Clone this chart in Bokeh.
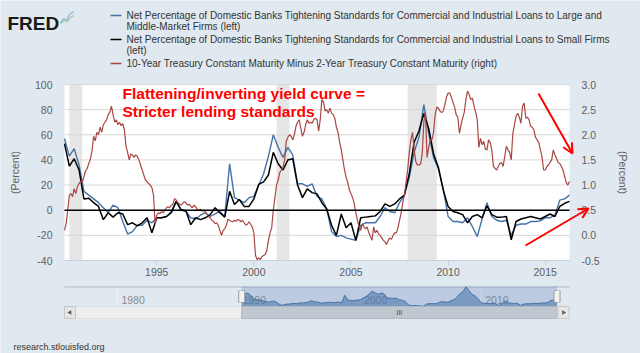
import math
from bokeh.plotting import figure
from bokeh.models import (Range1d, LinearAxis, FixedTicker, PrintfTickFormatter,
                          Label, Arrow, OpenHead)
from bokeh.core.properties import value
from bokeh.embed import file_html
from bokeh.resources import INLINE

# ---------------- data ----------------
# quarterly survey series, first value 1990 Q2
quarter_start = 1990.25
large_firms = [57, 43, 49, 36, 15, 12, 9, 6, 2, -2, 4, 2, -9, -19, -17, -12, -12, -8, -10, -6,
               -6, -5, -1, 7, 0, -1, -6, -7, -4, -2, -5, -3, -1, -5, 37, 10, 8, 6, 10, 11,
               20, 29, 43, 60, 50, 42, 50, 44, 21, 21, 19, 21, 11, 9, 1, -17, -21, -20, -22, -23,
               -24, -12, -10, -10, -10, -5, 2, -1, -2, 6, 12, 26, 46, 58, 84, 61, 42, 33, 17, -5,
               -9, -9, -10, -6, -13, -21, -7, 6, -5, -8, -9, -8, -20, -12, -11, -11, -9, -9, -8.5, -6,
               -6, -4, 8, 9, 12]
small_firms = [53, 35, 41, 32, 9, 9.5, 6, 3, -7.5, -2, -5.5, -2, -3, -11.5, -10, -12.5, -10, -6, -18, -6,
               -6, -5, -2, 7, 0.5, -0.5, -11.5, -6, -7.5, -6, -3.5, 2, -2, -5.5, 15, 4.5, 8.5, 3, 3, 9,
               20.5, 22.5, 28, 46, 37, 32, 40, 41, 20, 10, 17, 14, 13, 6, 1, -12, -20, -3, -14, -10,
               -24, -6, -5.5, -5, -4.5, -1, 5, 3, 5, 9, 12, 29, 54, 63, 77, 65, 45, 34, 16, 3,
               -1, -2, -3.5, -10, -5, -3.5, -6, 3.5, -3.5, -5.5, -5.5, -5, -23.5, -9, -7, -6, -5, -6, -7, -5,
               -3, -5, 3, 5.5, 7]

# monthly 10y-2y spread (right axis), first value April 1990
spread_first_year = 1990
spread_first_month = 4
spread_1990 = [0.10, 0.23, 0.50, 0.80, 0.83, 0.77, 0.93, 0.83, 0.97]
spread_1991 = [1.03, 1.08, 1.05, 1.17, 1.28, 1.33, 1.43, 1.52, 1.68, 1.97, 1.88, 2.05]
spread_1992 = [2.00, 2.15, 2.05, 2.20, 2.25, 2.30, 2.40, 2.45, 2.57, 2.40, 2.25, 2.30]
spread_1993 = [2.20, 2.25, 2.18, 2.22, 2.10, 1.77, 1.65, 1.50, 1.62, 1.60, 1.55, 1.60]
spread_1994 = [1.57, 1.50, 1.40, 1.30, 1.20, 1.10, 1.07, 1.03, 1.00, 0.95, 0.80, 0.23]
spread_1995 = [0.40, 0.45, 0.43, 0.47, 0.45, 0.50, 0.55, 0.57, 0.55, 0.60, 0.62, 0.73]
spread_1996 = [0.70, 0.65, 0.63, 0.60, 0.63, 0.67, 0.65, 0.60, 0.62, 0.58, 0.55, 0.60]
spread_1997 = [0.57, 0.52, 0.50, 0.52, 0.48, 0.50, 0.47, 0.42, 0.37, 0.35, 0.30, 0.28]
spread_1998 = [0.23, 0.25, 0.20, 0.10, 0.00, 0.10, 0.13, 0.20, 0.32, 0.30, 0.28, 0.27]
spread_1999 = [0.30, 0.28, 0.32, 0.30, 0.27, 0.30, 0.25, 0.20, 0.22, 0.27, 0.22, 0.17]
spread_2000 = [0.05, -0.40, -0.48, -0.45, -0.48, -0.42, -0.40, -0.38, -0.30, -0.10, 0.05, 0.15]
spread_2001 = [0.50, 0.75, 1.00, 1.10, 1.25, 1.30, 1.35, 1.50, 1.87, 1.95, 2.00, 1.97]
spread_2002 = [1.90, 2.00, 2.17, 2.25, 2.30, 2.13, 1.97, 2.05, 2.20, 2.30, 2.23, 2.25]
spread_2003 = [2.23, 2.30, 2.33, 2.30, 2.07, 2.30, 2.70, 2.65, 2.47, 2.50, 2.43, 2.53]
spread_2004 = [2.43, 2.40, 2.33, 2.15, 2.05, 1.85, 1.70, 1.50, 1.30, 1.15, 1.05, 0.90]
spread_2005 = [0.83, 0.75, 0.63, 0.45, 0.30, 0.17, 0.10, 0.23, 0.17, 0.13, 0.17, 0.05]
spread_2006 = [-0.02, -0.10, 0.17, 0.05, 0.10, 0.03, 0.00, -0.05, -0.10, -0.13, -0.18, -0.10]
spread_2007 = [-0.05, -0.08, 0.00, 0.05, 0.05, 0.15, 0.30, 0.45, 0.65, 0.80, 1.05, 1.30]
spread_2008 = [1.65, 1.90, 2.05, 1.72, 1.47, 1.40, 1.40, 1.42, 1.62, 2.25, 2.45, 1.55]
spread_2009 = [1.75, 1.90, 1.90, 2.05, 2.40, 2.55, 2.53, 2.47, 2.44, 2.47, 2.60, 2.75]
spread_2010 = [2.83, 2.83, 2.75, 2.65, 2.55, 2.40, 2.35, 2.03, 2.20, 2.33, 2.45, 2.70]
spread_2011 = [2.87, 2.80, 2.70, 2.73, 2.57, 2.45, 2.30, 1.75, 1.93, 1.80, 1.87, 1.72]
spread_2012 = [1.70, 1.90, 1.85, 1.70, 1.37, 1.33, 1.30, 1.37, 1.43, 1.45, 1.37, 1.57]
spread_2013 = [1.77, 1.70, 1.65, 1.50, 2.03, 2.20, 2.37, 2.43, 2.35, 2.23, 2.57, 2.63]
spread_2014 = [2.33, 2.35, 2.30, 2.17, 2.15, 2.10, 1.95, 1.90, 1.85, 1.70, 1.57, 1.30]
spread_2015 = [1.30, 1.37, 1.40, 1.45, 1.50, 1.70, 1.60, 1.53, 1.45, 1.43, 1.37, 1.30]
spread_2016 = [1.17, 1.05, 1.00, 1.07]

recession_start = [1990.5, 2001.167, 2007.917]
recession_end = [1991.167, 2001.833, 2009.417]

x_ticks = [1995, 2000, 2005, 2010, 2015]
left_ticks = [-40, -20, 0, 20, 40, 60, 80, 100]
right_ticks = [-0.5, 0.0, 0.5, 1.0, 1.5, 2.0, 2.5, 3.0]
nav_ticks = [1980, 1990, 2000, 2010]
nav_labels = ["1980", "1990", "2000", "2010"]

legend_lines = [
    "Net Percentage of Domestic Banks Tightening Standards for Commercial and Industrial Loans to Large and",
    "Middle-Market Firms (left)",
    "Net Percentage of Domestic Banks Tightening Standards for Commercial and Industrial Loans to Small Firms",
    "(left)",
    "10-Year Treasury Constant Maturity Minus 2-Year Treasury Constant Maturity (right)",
]
note_lines = ["Flattening/inverting yield curve =", "Stricter lending standards"]

# ---------------- derived x positions ----------------
t_q = [quarter_start + 0.25 * i for i in range(len(large_firms))]
spread_years = [spread_1990, spread_1991, spread_1992, spread_1993, spread_1994, spread_1995,
                spread_1996, spread_1997, spread_1998, spread_1999, spread_2000, spread_2001,
                spread_2002, spread_2003, spread_2004, spread_2005, spread_2006, spread_2007,
                spread_2008, spread_2009, spread_2010, spread_2011, spread_2012, spread_2013,
                spread_2014, spread_2015, spread_2016]
t_m, spread = [], []
for k, yr in enumerate(spread_years):
    m0 = spread_first_month if k == 0 else 1
    for j, v in enumerate(yr):
        t_m.append(spread_first_year + k + (m0 - 1 + j) / 12.0)
        spread.append(v)

# ---------------- geometry ----------------
BG = "#E1E9F0"
BLUE = "#4572A7"
RED_S = "#AA4643"
FONT = "Liberation Sans"
CW, CH = 640, 353
FL, FR, FT, FB = 64, 569, 84, 260          # plot area in px
X0, X1 = t_q[0], t_q[-1]
YL0, YL1 = -40, 100
YR0, YR1 = -0.5, 3.0

sx = (FR - FL) / (X1 - X0)
sy = (FB - FT) / (YL1 - YL0)
syr = (FB - FT) / (YR1 - YR0)
x_range = Range1d(X0 - FL / sx, X1 + (CW - FR) / sx)
y_range = Range1d(YL0 - (CH - FB) / sy, YL1 + FT / sy)
right_range = Range1d(YR0 - (CH - FB) / syr, YR1 + FT / syr)

# navigator geometry
NX0, NX1 = 1975.64, 2017.28
NT, NB = 286, 318
NY1 = 86.0
NSC = 5.6                 # units per px
base = NY1 - 20 * NSC     # bottom of navigator chart, top of scrollbar
NY0 = NY1 - (NB - NT) * NSC
nsx = (FR - FL) / (NX1 - NX0)
nav_x = Range1d(NX0 - FL / nsx, NX1 + (CW - FR) / nsx)
nav_y = Range1d(NY1 - (CH - NT) * NSC, NY1 + NT * NSC)


def dx(px):
    return x_range.start + px / sx


def dy(py):
    return y_range.end - py / sy


def ndx(px):
    return nav_x.start + px / nsx


def ndy(py):
    return nav_y.end - py * NSC


p = figure(width=CW, height=CH, x_range=x_range, y_range=y_range,
           output_backend="svg", toolbar_location=None,
           x_axis_location=None, y_axis_location=None,
           min_border=0, min_border_left=0, min_border_right=0, min_border_top=0, min_border_bottom=0,
           background_fill_color=BG, border_fill_color=BG, outline_line_color=None)
p.grid.visible = False
p.extra_y_ranges = {"right": right_range, "navy": nav_y}
p.extra_x_ranges = {"nav": nav_x}

# plot area, recessions, grid
p.quad(left=X0, right=X1, bottom=YL0, top=YL1, fill_color="white", line_color=None)
p.quad(left=recession_start, right=recession_end, bottom=YL0, top=YL1,
       fill_color="#E6E6E6", line_color=None)
p.segment(x0=X0, x1=X1, y0=left_ticks[1:], y1=left_ticks[1:], line_color="#D8D8D8", line_width=1)

# series
p.line(t_q, large_firms, line_color=BLUE, line_width=1.4)
p.line(t_q, small_firms, line_color="black", line_width=1.5)
p.line(t_m, spread, line_color=RED_S, line_width=1.2, y_range_name="right")
p.segment(x0=[X0], x1=[X1], y0=[0], y1=[0], line_color="black", line_width=1.5)

# axes (fixed inside the single frame)
xa = LinearAxis(fixed_location=YL0, bounds=(X0, X1), ticker=FixedTicker(ticks=x_ticks),
                formatter=PrintfTickFormatter(format="%d"))
xa.axis_line_color = "#C0D0E0"
xa.major_tick_line_color = "#C0D0E0"
xa.major_tick_out = 5
xa.major_tick_in = 0
xa.minor_tick_line_color = None
xa.major_label_standoff = 2
xa.major_label_text_font = FONT
xa.major_label_text_font_size = "10.5px"
xa.major_label_text_color = "#606060"
p.add_layout(xa, "below")

ya = LinearAxis(fixed_location=X0, bounds=(YL0, YL1), ticker=FixedTicker(ticks=left_ticks),
                formatter=PrintfTickFormatter(format="%d"), axis_label="(Percent)")
ya.axis_line_color = None
ya.major_tick_line_color = None
ya.minor_tick_line_color = None
ya.major_tick_out = 0
ya.major_label_standoff = 12
ya.major_label_text_font = FONT
ya.major_label_text_font_size = "10.5px"
ya.major_label_text_color = "#606060"
ya.axis_label_standoff = 11
ya.axis_label_text_font = FONT
ya.axis_label_text_font_size = "10.5px"
ya.axis_label_text_font_style = "normal"
ya.axis_label_text_color = "#606060"
p.add_layout(ya, "left")

ra = LinearAxis(y_range_name="right", fixed_location=X1, bounds=(YR0, YR1),
                ticker=FixedTicker(ticks=right_ticks),
                formatter=PrintfTickFormatter(format="%.1f"), axis_label="(Percent)")
ra.axis_line_color = None
ra.major_tick_line_color = None
ra.minor_tick_line_color = None
ra.major_tick_out = 0
ra.major_label_standoff = 12
ra.major_label_text_font = FONT
ra.major_label_text_font_size = "10.5px"
ra.major_label_text_color = "#606060"
ra.axis_label_standoff = 14
ra.axis_label_text_font = FONT
ra.axis_label_text_font_size = "10.5px"
ra.axis_label_text_font_style = "normal"
ra.axis_label_text_color = "#606060"
p.add_layout(ra, "right")

# header: logo + legend
p.add_layout(Label(x=dx(7), y=dy(23), text="FRED", text_font=FONT, text_font_size="19px",
                   text_font_style="bold", text_color="#1a1a1a", text_baseline="alphabetic"))
icon_a = [(60, 22), (63, 18), (66, 20), (69, 14), (73, 11)]
icon_b = [(60, 23), (64, 20), (67, 21), (70, 17), (73, 15)]
for pts, col in ((icon_a, "#8FB3D9"), (icon_b, "#93C493")):
    for (a, b), (c, d) in zip(pts[:-1], pts[1:]):
        p.add_layout(Arrow(end=None, x_start=dx(a), y_start=dy(b), x_end=dx(c), y_end=dy(d),
                           line_color=col, line_width=1.2))

legend_y = [15, 26, 39, 50, 63]
legend_swatch = {0: BLUE, 2: "black", 4: RED_S}
for i, (txt, yy) in enumerate(zip(legend_lines, legend_y)):
    p.add_layout(Label(x=dx(126), y=dy(yy), text=txt, text_font=FONT, text_font_size="10px",
                       text_color="#333333", text_baseline="middle"))
    if i in legend_swatch:
        p.add_layout(Arrow(end=None, x_start=dx(110), y_start=dy(yy), x_end=dx(121), y_end=dy(yy),
                           line_color=legend_swatch[i], line_width=1.6))

# annotation
for txt, yy in zip(note_lines, [93, 110.5]):
    p.add_layout(Label(x=dx(122), y=dy(yy), text=txt, text_font=FONT, text_font_size="15.5px",
                       text_font_style="bold", text_color="#FF0000", text_baseline="alphabetic"))

for (a, b), (c, d) in (((538, 93), (572, 153)), ((525, 245), (588, 208))):
    p.add_layout(Arrow(end=OpenHead(size=10, line_color="#FF0000", line_width=2),
                       x_start=dx(a), y_start=dy(b), x_end=dx(c), y_end=dy(d),
                       line_color="#FF0000", line_width=2))

# ---------------- navigator ----------------
NAV = dict(x_range_name="nav", y_range_name="navy")
p.segment(x0=nav_ticks, y0=base, x1=nav_ticks, y1=NY1, line_color="#F0F4F7", line_width=1, **NAV)
p.text(x=nav_ticks, y=ndy(299.5), text=nav_labels, x_offset=4, text_font=value(FONT),
       text_font_size="10.5px", text_color="#8A8A8A", text_baseline="middle", **NAV)
p.segment(x0=[NX0], y0=[ndy(286.5)], x1=[NX1], y1=[ndy(286.5)], line_color="#B0B8C0",
          line_width=1, **NAV)
p.quad(left=t_q[0], right=t_q[-1], bottom=base, top=NY1,
       fill_color="rgb(102,133,194)", fill_alpha=0.3, line_color=None, **NAV)
p.varea(x=t_q, y1=base, y2=large_firms, fill_color=BLUE, fill_alpha=0.55, **NAV)
p.line(t_q, large_firms, line_color=BLUE, line_width=1, **NAV)

# scrollbar
p.quad(left=ndx(75), right=ndx(557.5), bottom=NY0, top=base, fill_color="#EEEEEE",
       line_color="#E0E0E0", **NAV)
p.quad(left=t_q[0], right=t_q[-1], bottom=NY0 + 0.5, top=base, fill_color="#BFC8D1",
       line_color="#B0B8C0", **NAV)
p.quad(left=[ndx(64), ndx(557.5)], right=[ndx(75), ndx(568.5)], bottom=NY0 + 0.5, top=base,
       fill_color="#E6E6E6", line_color="#C8C8C8", **NAV)
p.scatter(x=[ndx(69.5), ndx(563)], y=ndy(312), marker="triangle", size=4.5,
          angle=[math.pi / 2, -math.pi / 2], fill_color="#555555", line_color=None, **NAV)
p.text(x=[(t_q[0] + t_q[-1]) / 2], y=ndy(312), text=["III"], text_font=value(FONT),
       text_font_size="7px", text_color="#444444", text_align="center", text_baseline="middle", **NAV)
# handles
p.quad(left=[t_q[0], t_q[-1]], right=[t_q[0], t_q[-1]], bottom=ndy(302), top=ndy(290),
       line_color="#999999", line_width=7, fill_color=None, **NAV)
p.quad(left=[t_q[0], t_q[-1]], right=[t_q[0], t_q[-1]], bottom=ndy(301.5), top=ndy(290.5),
       line_color="#F2F2F2", line_width=5, fill_color=None, **NAV)

p.add_layout(Label(x=dx(13), y=dy(346), text="research.stlouisfed.org", text_font=FONT,
                   text_font_size="9px", text_color="#333333", text_baseline="middle"))

open("out.html", "w").write(file_html(p, INLINE))
